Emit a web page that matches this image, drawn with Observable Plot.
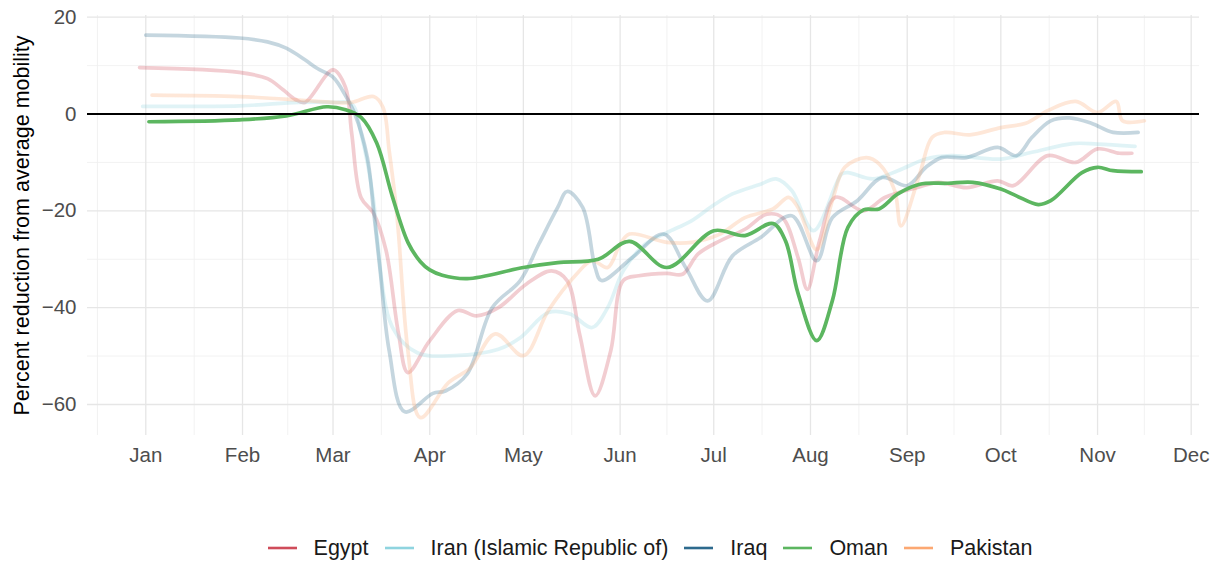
<!DOCTYPE html>
<html>
<head>
<meta charset="utf-8">
<script src="https://cdn.jsdelivr.net/npm/d3@7"></script>
<script src="https://cdn.jsdelivr.net/npm/@observablehq/plot@0.6"></script>
<style>
  html, body { margin: 0; padding: 0; background: #fff; }
  body { width: 1222px; font-family: "Liberation Sans", Arial, Helvetica, sans-serif; }
  #chart svg { display: block; }
  #legend { display: flex; justify-content: center; align-items: center; height: 30px; margin-top: 53px; padding-left: 78px; font-size: 21.5px; color: #1a1a1a; }
  .item { display: flex; align-items: center; margin-right: 16px; }
  .item:last-child { margin-right: 0; }
  .item svg { margin-right: 17px; display: block; }
</style>
</head>
<body>
<div id="chart"></div>
<div id="legend"></div>
<script>
// ---- Data ----
const countries = ["Egypt", "Iran (Islamic Republic of)", "Iraq", "Oman", "Pakistan"];
const colors = ["#cf4c5a", "#8fd4df", "#2d6a8d", "#5cb660", "#fca872"];

const egypt = [
  ["2019-12-30", 9.6], ["2020-01-31", 8.6], ["2020-02-09", 7.3], ["2020-02-14", 5.0], ["2020-02-18", 3.0],
  ["2020-02-21", 2.4], ["2020-03-01", 9.1], ["2020-03-05", 5.5], ["2020-03-07", -4.1],
  ["2020-03-10", -17.3], ["2020-03-14", -20.5], ["2020-03-18", -28.2], ["2020-03-22", -45.4],
  ["2020-03-25", -53.4], ["2020-04-01", -46.8], ["2020-04-10", -40.6], ["2020-04-16", -41.7],
  ["2020-04-23", -40.0], ["2020-05-02", -35.1], ["2020-05-10", -32.4], ["2020-05-15", -34.4],
  ["2020-05-19", -45.4], ["2020-05-24", -58.2], ["2020-05-29", -48.9], ["2020-06-02", -34.4],
  ["2020-06-07", -33.4], ["2020-06-16", -32.9], ["2020-06-21", -33.1], ["2020-06-26", -28.9],
  ["2020-07-03", -26.2], ["2020-07-11", -23.8], ["2020-07-18", -20.7], ["2020-07-23", -21.4],
  ["2020-07-28", -29.6], ["2020-07-31", -36.2], ["2020-08-04", -26.0], ["2020-08-09", -17.2],
  ["2020-08-18", -20.0], ["2020-08-25", -17.2], ["2020-09-04", -15.2], ["2020-09-11", -14.1],
  ["2020-09-20", -15.2], ["2020-09-30", -13.8], ["2020-10-05", -14.8], ["2020-10-16", -8.6],
  ["2020-10-25", -10.0], ["2020-11-01", -7.2], ["2020-11-08", -8.1], ["2020-11-12", -8.1]
];

const iran = [
  ["2019-12-31", 1.6], ["2020-01-31", 1.7], ["2020-02-19", 2.4], ["2020-03-01", 2.4],
  ["2020-03-07", 2.1], ["2020-03-10", -4.1], ["2020-03-14", -17.9], ["2020-03-15", -24.8],
  ["2020-03-20", -44.0], ["2020-03-28", -49.3], ["2020-04-09", -49.9], ["2020-04-23", -48.6],
  ["2020-04-30", -46.2], ["2020-05-09", -41.0], ["2020-05-16", -41.3], ["2020-05-23", -44.1],
  ["2020-05-28", -40.0], ["2020-06-02", -32.4], ["2020-06-09", -26.9], ["2020-06-16", -24.5],
  ["2020-06-24", -22.0], ["2020-07-01", -18.8], ["2020-07-07", -16.5], ["2020-07-16", -14.5],
  ["2020-07-21", -13.4], ["2020-07-26", -15.8], ["2020-08-02", -24.1], ["2020-08-11", -12.4],
  ["2020-08-13", -12.1], ["2020-08-21", -13.4], ["2020-08-29", -11.7], ["2020-09-07", -9.3],
  ["2020-09-15", -8.6], ["2020-10-01", -9.3], ["2020-10-11", -7.9], ["2020-10-24", -6.1],
  ["2020-11-01", -6.2], ["2020-11-13", -6.7]
];

const iraq = [
  ["2020-01-01", 16.3], ["2020-01-31", 15.7], ["2020-02-09", 14.9], ["2020-02-15", 13.6],
  ["2020-02-21", 11.2], ["2020-02-25", 9.4], ["2020-03-01", 7.6], ["2020-03-05", 3.8], ["2020-03-08", 0.0],
  ["2020-03-12", -9.0], ["2020-03-14", -20.0], ["2020-03-16", -31.7], ["2020-03-19", -48.9],
  ["2020-03-24", -61.5], ["2020-04-02", -57.7], ["2020-04-06", -57.2], ["2020-04-13", -53.7],
  ["2020-04-21", -40.0], ["2020-04-30", -34.4], ["2020-05-06", -26.8], ["2020-05-12", -19.3],
  ["2020-05-15", -16.0], ["2020-05-20", -19.3], ["2020-05-24", -31.7], ["2020-05-26", -34.4],
  ["2020-06-05", -29.6], ["2020-06-15", -24.8], ["2020-06-22", -31.7], ["2020-06-29", -38.6],
  ["2020-07-07", -29.3], ["2020-07-16", -25.5], ["2020-07-26", -21.0], ["2020-08-03", -30.3],
  ["2020-08-08", -21.4], ["2020-08-16", -17.9], ["2020-08-24", -13.1], ["2020-09-01", -14.8],
  ["2020-09-07", -11.0], ["2020-09-12", -9.0], ["2020-09-20", -9.0], ["2020-09-30", -6.9],
  ["2020-10-06", -8.6], ["2020-10-11", -4.8], ["2020-10-17", -1.4], ["2020-10-23", -0.8],
  ["2020-10-30", -1.9], ["2020-11-06", -3.8], ["2020-11-14", -3.8]
];

const oman = [
  ["2020-01-02", -1.6], ["2020-01-31", -1.2], ["2020-02-15", -0.4], ["2020-02-28", 1.5],
  ["2020-03-05", 0.9], ["2020-03-10", -0.7], ["2020-03-15", -6.0], ["2020-03-20", -17.0],
  ["2020-03-25", -26.5], ["2020-03-29", -30.5], ["2020-04-01", -32.2], ["2020-04-05", -33.3],
  ["2020-04-13", -34.0], ["2020-05-01", -31.7], ["2020-05-12", -30.7], ["2020-05-25", -30.0],
  ["2020-06-04", -26.3], ["2020-06-16", -31.7], ["2020-07-01", -24.1], ["2020-07-11", -25.1],
  ["2020-07-20", -22.6], ["2020-07-24", -26.2], ["2020-07-28", -37.0], ["2020-08-03", -46.8],
  ["2020-08-08", -38.6], ["2020-08-13", -23.4], ["2020-08-18", -19.8], ["2020-08-23", -19.6],
  ["2020-08-29", -16.5], ["2020-09-05", -14.5], ["2020-09-14", -14.3], ["2020-09-22", -14.1],
  ["2020-10-01", -15.5], ["2020-10-06", -16.9], ["2020-10-13", -18.7], ["2020-10-17", -17.9],
  ["2020-10-27", -12.1], ["2020-11-01", -11.0], ["2020-11-06", -11.7], ["2020-11-15", -11.9]
];

const pakistan = [
  ["2020-01-03", 3.9], ["2020-01-31", 3.6], ["2020-02-19", 2.9], ["2020-03-01", 2.4],
  ["2020-03-07", 2.4], ["2020-03-14", 3.6], ["2020-03-17", 1.4], ["2020-03-19", -7.6],
  ["2020-03-21", -17.9], ["2020-03-22", -24.8], ["2020-03-25", -48.9], ["2020-03-29", -62.7],
  ["2020-04-07", -55.5], ["2020-04-14", -52.4], ["2020-04-22", -45.4], ["2020-05-01", -49.9],
  ["2020-05-09", -40.6], ["2020-05-18", -33.1], ["2020-05-23", -30.3], ["2020-05-28", -31.7],
  ["2020-06-01", -26.9], ["2020-06-04", -24.8], ["2020-06-16", -26.5], ["2020-06-24", -26.5],
  ["2020-07-03", -24.8], ["2020-07-11", -21.4], ["2020-07-20", -19.6], ["2020-07-25", -17.2],
  ["2020-07-28", -19.3], ["2020-08-03", -28.0], ["2020-08-08", -17.9], ["2020-08-12", -11.0],
  ["2020-08-19", -9.0], ["2020-08-23", -10.3], ["2020-08-28", -15.8], ["2020-08-30", -23.1],
  ["2020-09-05", -12.4], ["2020-09-09", -4.8], ["2020-09-13", -3.8], ["2020-09-21", -4.3],
  ["2020-10-01", -2.8], ["2020-10-09", -1.9], ["2020-10-16", 0.7], ["2020-10-25", 2.6],
  ["2020-11-01", 0.3], ["2020-11-07", 2.6], ["2020-11-09", -1.4], ["2020-11-16", -1.4]
];

// Axis ticks
const monthTicks = ["2019-12-01", "2020-01-01", "2020-02-01", "2020-03-01", "2020-04-01", "2020-05-01",
  "2020-06-01", "2020-07-01", "2020-08-01", "2020-09-01", "2020-10-01", "2020-11-01", "2020-12-01"];
const yMajor = [-60, -40, -20, 0, 20];
const yMinor = [-50, -30, -10, 10];
const xDomain = ["2019-12-13T07:40:00Z", "2020-12-03T16:00:00Z"];
const yDomain = [-66.4, 20.35];

// ---- Build ----
const parse = d3.utcParse("%Y-%m-%d");
const seriesList = [egypt, iran, iraq, oman, pakistan];
const rows = [];
seriesList.forEach((s, i) => s.forEach(([d, v]) => rows.push({country: countries[i], date: parse(d), value: v})));

const majorDates = monthTicks.map(parse);
const minorDates = d3.pairs(majorDates).map(([a, b]) => new Date((+a + +b) / 2));
const shownMajor = majorDates.slice(1);

const fmtY = d => d < 0 ? "\u2212" + Math.abs(d) : String(d);

const background = rows.filter(d => d.country !== "Oman");
const focus = rows.filter(d => d.country === "Oman");

const chart = Plot.plot({
  width: 1222,
  height: 480,
  marginLeft: 87,
  marginRight: 23,
  marginTop: 15,
  marginBottom: 45,
  style: {fontFamily: '"Liberation Sans", Arial, Helvetica, sans-serif', fontSize: "20.5px", color: "#4d4d4d", background: "#fff"},
  x: {type: "utc", domain: xDomain.map(d => new Date(d)), ticks: shownMajor, tickFormat: d3.utcFormat("%b"), tickSize: 0, tickPadding: 12, label: null},
  y: {domain: yDomain, ticks: yMajor, tickFormat: fmtY, tickSize: 0, tickPadding: 11, label: null},
  color: {domain: countries, range: colors},
  marks: [
    Plot.ruleY(yMinor, {stroke: "#f0f0f0", strokeWidth: 0.9}),
    Plot.ruleX(minorDates, {stroke: "#f0f0f0", strokeWidth: 0.9}),
    Plot.ruleY(yMajor, {stroke: "#e6e6e6", strokeWidth: 1.3}),
    Plot.ruleX(shownMajor, {stroke: "#e6e6e6", strokeWidth: 1.3}),
    Plot.line(background, {x: "date", y: "value", z: "country", stroke: "country", strokeOpacity: 0.28, strokeWidth: 3.7, curve: "catmull-rom"}),
    Plot.line(focus, {x: "date", y: "value", z: "country", stroke: "country", strokeOpacity: 1, strokeWidth: 3.7, curve: "catmull-rom"}),
    Plot.ruleY([0], {stroke: "#000", strokeWidth: 2}),
    Plot.text(["Percent reduction from average mobility"], {text: d => d, frameAnchor: "left", textAnchor: "middle", lineAnchor: "middle", rotate: -90, dx: -65, fontSize: 21.5, fill: "#000"})
  ]
});
document.getElementById("chart").appendChild(chart);

// Legend
const legend = document.getElementById("legend");
countries.forEach((c, i) => {
  const item = document.createElement("div");
  item.className = "item";
  item.innerHTML = `<svg width="29" height="20"><line x1="0" x2="29" y1="10" y2="10" stroke="${colors[i]}" stroke-width="2.6"/></svg><span>${c}</span>`;
  legend.appendChild(item);
});
</script>
</body>
</html>
